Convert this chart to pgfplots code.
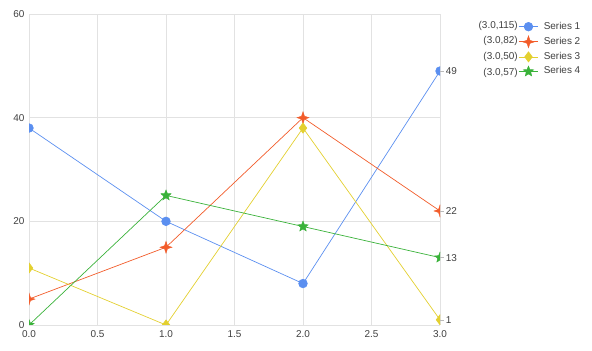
\documentclass[border=0pt]{standalone}
\usepackage{fontspec}
\setmainfont{Liberation Sans}
\usepackage{pgfplots}
\pgfplotsset{compat=1.18}
\definecolor{cA}{HTML}{5B8FF0}
\definecolor{cB}{HTML}{F25C2A}
\definecolor{cC}{HTML}{E3D030}
\definecolor{cD}{HTML}{3AB23A}
\definecolor{txt}{HTML}{404040}
\definecolor{grd}{HTML}{E2E2E2}
\pgfdeclareplotmark{star4}{%
  \pgfpathmoveto{\pgfqpoint{0pt}{\pgfplotmarksize}}%
  \pgfpathlineto{\pgfqpoint{0.25\pgfplotmarksize}{0.25\pgfplotmarksize}}%
  \pgfpathlineto{\pgfqpoint{\pgfplotmarksize}{0pt}}%
  \pgfpathlineto{\pgfqpoint{0.25\pgfplotmarksize}{-0.25\pgfplotmarksize}}%
  \pgfpathlineto{\pgfqpoint{0pt}{-\pgfplotmarksize}}%
  \pgfpathlineto{\pgfqpoint{-0.25\pgfplotmarksize}{-0.25\pgfplotmarksize}}%
  \pgfpathlineto{\pgfqpoint{-\pgfplotmarksize}{0pt}}%
  \pgfpathlineto{\pgfqpoint{-0.25\pgfplotmarksize}{0.25\pgfplotmarksize}}%
  \pgfpathclose\pgfusepathqfillstroke}
\pgfdeclareplotmark{star5}{%
  \pgfpathmoveto{\pgfqpointpolar{90}{\pgfplotmarksize}}%
  \pgfpathlineto{\pgfqpointpolar{126}{0.45\pgfplotmarksize}}%
  \pgfpathlineto{\pgfqpointpolar{162}{\pgfplotmarksize}}%
  \pgfpathlineto{\pgfqpointpolar{198}{0.45\pgfplotmarksize}}%
  \pgfpathlineto{\pgfqpointpolar{234}{\pgfplotmarksize}}%
  \pgfpathlineto{\pgfqpointpolar{270}{0.45\pgfplotmarksize}}%
  \pgfpathlineto{\pgfqpointpolar{306}{\pgfplotmarksize}}%
  \pgfpathlineto{\pgfqpointpolar{342}{0.45\pgfplotmarksize}}%
  \pgfpathlineto{\pgfqpointpolar{18}{\pgfplotmarksize}}%
  \pgfpathlineto{\pgfqpointpolar{54}{0.45\pgfplotmarksize}}%
  \pgfpathclose\pgfusepathqfillstroke}
\begin{document}
\begin{tikzpicture}
\useasboundingbox (-29bp,-26bp) rectangle (563bp,325bp);
\begin{axis}[
  at={(0,0)}, anchor=south west,
  scale only axis, width=411bp, height=311bp,
  xmin=0, xmax=3, ymin=0, ymax=60,
  xtick={0,0.5,...,3}, ytick={0,20,40,60},
  xticklabel style={/pgf/number format/.cd, fixed, fixed zerofill, precision=1},
  /pgf/number format/assume math mode=true,
  tick label style={font=\fontsize{10}{12}\selectfont, text=txt},
  xtick style={draw=none}, ytick style={draw=none},
  xticklabel shift=2bp, yticklabel shift=1bp,
  grid=major, major grid style={grd, line width=0.6pt},
  axis line style={draw=grd, line width=0.6pt},
  axis x line*=bottom, axis y line*=left,
  clip marker paths=true,
  every axis plot/.append style={line width=0.7pt},
  legend style={at={(1.1898,0.9775)}, anchor=north west, draw=none, fill=none,
    font=\fontsize{10}{12}\selectfont, text=txt, inner sep=0pt,
    nodes={inner sep=1pt, text height=7bp, text depth=2bp},
    row sep=3.6bp,
    /tikz/every odd column/.append style={column sep=4bp}},
  legend cell align=left,
  legend image code/.code={\draw[mark repeat=2,mark phase=2] plot coordinates {(0cm,0cm) (0.35cm,0cm) (0.7cm,0cm)};},
]
\addplot[cA, mark=*, mark size=4.3bp, mark options={fill=cA, draw=cA}] coordinates {(0,38) (1,20) (2,8) (3,49)};
\addlegendentry{Series 1}
\addplot[cB, mark=star4, mark size=6bp, mark options={fill=cB, draw=cB, line width=0.4pt}] coordinates {(0,5) (1,15) (2,40) (3,22)};
\addlegendentry{Series 2}
\addplot[cC, mark=diamond*, mark size=5bp, mark options={fill=cC, draw=cC}] coordinates {(0,11) (1,0) (2,38) (3,1)};
\addlegendentry{Series 3}
\addplot[cD, mark=star5, mark size=5.5bp, mark options={fill=cD, draw=cD, line width=0.4pt}] coordinates {(0,0) (1,25) (2,19) (3,13)};
\addlegendentry{Series 4}
\coordinate (e1) at (axis cs:3,49);
\coordinate (e2) at (axis cs:3,22);
\coordinate (e3) at (axis cs:3,1);
\coordinate (e4) at (axis cs:3,13);
\end{axis}
\foreach \p/\v in {e1/49, e2/22, e3/1, e4/13}{
  \draw[grd!60!gray, line width=0.6pt] (\p) -- ++(4bp,0) node[anchor=west, inner sep=1.5bp, text=txt, font=\fontsize{10}{12}\selectfont] {\v};
}
\begin{scope}[every node/.style={anchor=east, text=txt, font=\fontsize{10}{12}\selectfont, inner sep=0pt}]
\node at (489bp,299.5bp) {(3.0,115)};
\node at (489bp,284bp) {(3.0,82)};
\node at (489bp,268.5bp) {(3.0,50)};
\node at (489bp,252.5bp) {(3.0,57)};
\end{scope}
\end{tikzpicture}
\end{document}
